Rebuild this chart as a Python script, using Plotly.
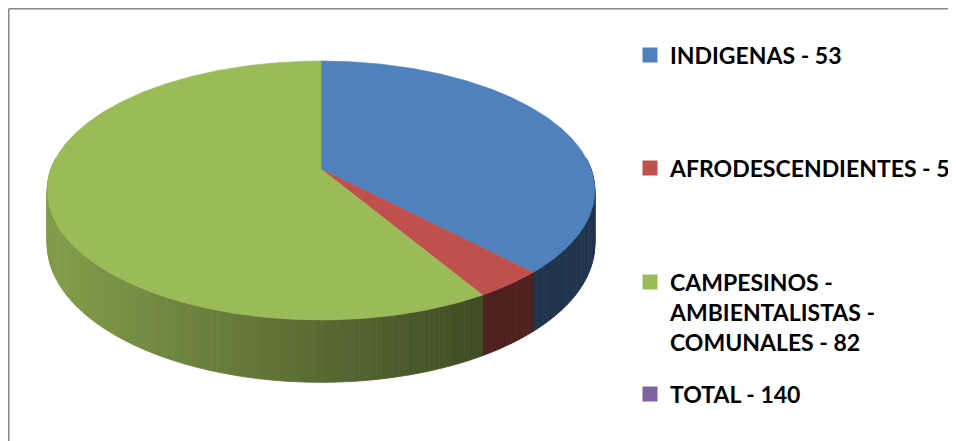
import numpy as np
import plotly.graph_objects as go

# ---------------- data ----------------
labels = ["INDIGENAS - 53", "AFRODESCENDIENTES - 5",
          "CAMPESINOS -<br>AMBIENTALISTAS -<br>COMUNALES - 82", "TOTAL - 140"]
values = [53, 5, 82, 0]
top_colors = ["#4F81BD", "#C0504D", "#9BBB59", "#8064A2"]

# ---------------- page / figure geometry ----------------
PAGE_W, PAGE_H = 956, 441
OFF = 8                      # default body margin of the page
W, HGT = PAGE_W - OFF, PAGE_H - OFF

# 3D pie geometry (page pixel space)
CX, CY = 321, 169       # pie centre on screen
R = 270                 # horizontal radius at centre depth
RS = 125.9              # vertical radius (tilted) at centre depth
K = 0.166               # perspective strength
DEPTH = 52              # thickness of the pie


def proj(t, drop=0.0):
    a = -np.cos(t)
    s = 1.0 / (1.0 - K * a)
    return CX + R * np.sin(t) * s, CY + RS * a * s + drop * s


def rgb(hexc, f=1.0):
    h = hexc.lstrip("#")
    r, g, b = (int(h[i:i + 2], 16) for i in (0, 2, 4))
    return "rgb(%d,%d,%d)" % (round(r * f), round(g * f), round(b * f))


def shade(xm):
    return 0.41 + 0.42 * float(np.clip((480 - xm) / 420.0, 0, 1))


total = sum(values)
fr = np.cumsum([0] + values) / total * 2 * np.pi

fig = go.Figure()

# side walls (front part only), split into thin strips for the gradient
lo, hi = np.radians(85), np.radians(275)
for i, v in enumerate(values):
    if v == 0:
        continue
    t0, t1 = max(fr[i], lo), min(fr[i + 1], hi)
    if t1 <= t0:
        continue
    n = max(1, int(np.ceil(np.degrees(t1 - t0) / 1.0)))
    edges = np.linspace(t0, t1, n + 1)
    for a, b in zip(edges[:-1], edges[1:]):
        ts = np.linspace(a, b, 3)
        xt, yt = proj(ts)
        xb, yb = proj(ts[::-1], DEPTH)
        xs = np.concatenate([xt, xb, xt[:1]])
        ys = np.concatenate([yt, yb, yt[:1]])
        col = rgb(top_colors[i], shade(float(np.mean(xt))))
        fig.add_trace(go.Scatter(x=xs, y=ys, mode="lines", fill="toself",
                                 fillcolor=col, line=dict(color=col, width=0.8),
                                 hoverinfo="skip", showlegend=False))

# top faces
for i, v in enumerate(values):
    if v == 0:
        continue
    ts = np.linspace(fr[i], fr[i + 1], max(3, int(np.degrees(fr[i + 1] - fr[i]) * 2)))
    xt, yt = proj(ts)
    xs = np.concatenate([[CX], xt, [CX]])
    ys = np.concatenate([[CY], yt, [CY]])
    fig.add_trace(go.Scatter(x=xs, y=ys, mode="lines", fill="toself",
                             fillcolor=top_colors[i],
                             line=dict(color=top_colors[i], width=0.6),
                             hoverinfo="skip", showlegend=False))

# legend entries (one legend each, to place them like the original)
legend_ids = ["legend", "legend2", "legend3", "legend4"]
legend_y_px = [47, 160, 304, 386]          # centre of each legend box (figure px)
legend_font = dict(family="Lato", size=23, color="black", weight="bold")
for lab, col, lid in zip(labels, top_colors, legend_ids):
    fig.add_trace(go.Scatter(x=[None], y=[None], mode="markers", name=lab,
                             marker=dict(symbol="square", size=15, color=col),
                             legend=lid, showlegend=True))

LX = 622 / W
leg_common = dict(xanchor="left", yanchor="middle", bgcolor="rgba(0,0,0,0)",
                  font=legend_font, valign="top", itemclick=False)
layout_legends = {}
for lid, py in zip(legend_ids, legend_y_px):
    layout_legends[lid] = dict(x=LX, y=1 - py / HGT, **leg_common)

fig.update_layout(
    width=W, height=HGT,
    margin=dict(l=0, r=0, t=0, b=0),
    paper_bgcolor="white", plot_bgcolor="white",
    xaxis=dict(range=[OFF, PAGE_W], visible=False, fixedrange=True),
    yaxis=dict(range=[PAGE_H, OFF], visible=False, fixedrange=True),
    shapes=[
        dict(type="line", xref="x", yref="y", x0=8.75, y0=8.75, x1=8.75, y1=PAGE_H,
             line=dict(color="#868686", width=1.5)),
        dict(type="line", xref="x", yref="y", x0=8.75, y0=8.75, x1=PAGE_W, y1=8.75,
             line=dict(color="#868686", width=1.5)),
    ],
    **layout_legends,
)

fig.write_html("out.html")
